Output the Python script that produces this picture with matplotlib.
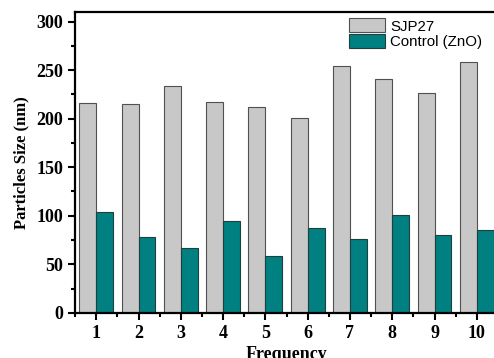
import numpy as np
import matplotlib.pyplot as plt
from matplotlib.ticker import MultipleLocator

frequency = [1, 2, 3, 4, 5, 6, 7, 8, 9, 10]
sjp27 = [216, 215, 234, 217, 212, 201, 254, 241, 226, 258]
control_zno = [104, 78, 67, 95, 59, 87, 76, 101, 80, 85]

fig = plt.figure(figsize=(4.94, 3.58), dpi=100)
ax = fig.add_axes([0.152, 0.126, 0.856, 0.841])

x = np.array(frequency)
w = 0.4
ax.bar(x - w/2, sjp27, w, color='#c8c8c8', edgecolor='#505050', linewidth=0.8, label='SJP27')
ax.bar(x + w/2, control_zno, w, color='#008080', edgecolor='#204040', linewidth=0.8, label='Control (ZnO)')

ax.set_xlim(0.5, 10.5)
ax.set_ylim(0, 310)
ax.set_xticks(frequency)
ax.yaxis.set_major_locator(MultipleLocator(50))
ax.yaxis.set_minor_locator(MultipleLocator(25))
ax.xaxis.set_minor_locator(MultipleLocator(0.5))
ax.tick_params(which='both', direction='out', width=1.5)
ax.tick_params(which='major', length=5)
ax.tick_params(which='minor', length=3)
for s in ax.spines.values():
    s.set_linewidth(1.6)

for lab in ax.get_xticklabels() + ax.get_yticklabels():
    lab.set_fontfamily('Liberation Serif')
    lab.set_fontweight('bold')
    lab.set_fontsize(13)

ax.set_xlabel('Frequency', family='Liberation Serif', weight='bold', fontsize=13, labelpad=3)
ax.set_ylabel('Particles Size (nm)', family='Liberation Serif', weight='bold', fontsize=12, labelpad=5)

ax.legend(loc='upper left', bbox_to_anchor=(0.6475, 0.978), frameon=False,
          prop={'family': 'Liberation Sans', 'size': 10.8},
          handlelength=2.4, handleheight=1.05, handletextpad=0.35, labelspacing=0.05,
          borderaxespad=0.0, borderpad=0.0)

fig.savefig('out.png', dpi=100)
